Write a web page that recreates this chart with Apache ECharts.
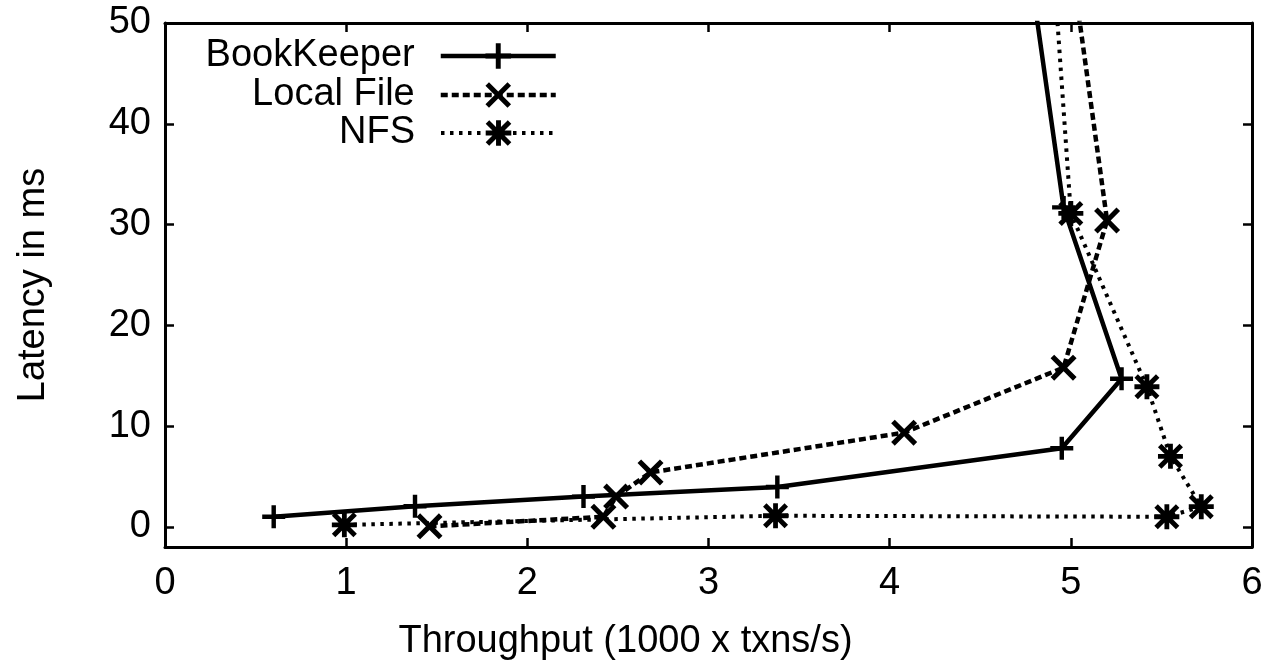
<!DOCTYPE html>
<html>
<head>
<meta charset="utf-8">
<script src="https://cdn.jsdelivr.net/npm/echarts@6/dist/echarts.min.js"></script>
<style>
html,body{margin:0;padding:0;background:#fff;}
#chart{width:1274px;height:668px;}
</style>
</head>
<body>
<div id="chart"></div>
<script>
// ---- data ----
const seriesNames = ['BookKeeper', 'Local File', 'NFS'];
const bookKeeperX = [0.60, 1.38, 2.31, 3.38, 4.95, 5.28, 4.96, 4.58];
const bookKeeperY = [1.0, 2.05, 3.0, 3.95, 7.8, 14.7, 31.7, 80];
const localFileX = [1.46, 2.42, 2.49, 2.68, 4.08, 4.96, 5.20, 4.82];
const localFileY = [0.05, 1.0, 3.0, 5.4, 9.35, 15.8, 30.4, 80];
const nfsX = [0.99, 3.37, 5.53, 5.72, 5.55, 5.42, 5.00, 4.81];
const nfsY = [0.2, 1.1, 1.0, 2.0, 7.0, 13.9, 31.1, 80];
const xTicks = [0, 1, 2, 3, 4, 5, 6];
const yTicks = [0, 10, 20, 30, 40, 50];
const xName = 'Throughput (1000 x txns/s)';
const yName = 'Latency in ms';

// ---- styles ----
const FONT = '"Liberation Sans", Arial, Helvetica, sans-serif';
const FS = 38;
const plusPath = 'path://M10.5,0H15.5V10.5H26V15.5H15.5V26H10.5V15.5H0V10.5H10.5Z';
const xPath = 'path://M3.6,0L13,9.4L22.4,0L26,3.6L16.6,13L26,22.4L22.4,26L13,16.6L3.6,26L0,22.4L9.4,13L0,3.6Z';
const starPath = 'path://M10.5,0H15.5V10.5H26V15.5H15.5V26H10.5V15.5H0V10.5H10.5Z' +
  'M3.6,0L13,9.4L22.4,0L26,3.6L16.6,13L26,22.4L22.4,26L13,16.6L3.6,26L0,22.4L9.4,13L0,3.6Z';

function pairs(xs, ys) { return xs.map((x, i) => [x, ys[i]]); }

const chart = echarts.init(document.getElementById('chart'), null, {renderer: 'canvas'});

const axisLine = {show: true, onZero: false, lineStyle: {color: '#000', width: 3}};
const tick = {show: true, inside: true, length: 9, lineStyle: {color: '#000', width: 2.5}};

function legendFor(name, top) {
  return {
    data: [name],
    right: 716,
    top: top,
    padding: 0,
    align: 'right',
    orient: 'vertical',
    itemWidth: 115,
    itemHeight: 32,
    selectedMode: false,
    lineStyle: {width: 'inherit', type: 'inherit'},
    textStyle: {fontSize: FS, color: '#000', fontFamily: FONT, padding: [0, 21, 0, 0]}
  };
}

const option = {
  animation: false,
  backgroundColor: '#fff',
  grid: {left: 165, right: 22, top: 23, bottom: 121, containLabel: false, outerBoundsMode: 'none'},
  legend: [
    legendFor(seriesNames[0], 37),
    legendFor(seriesNames[1], 76),
    legendFor(seriesNames[2], 114)
  ],
  xAxis: [
    {
      type: 'value', min: xTicks[0], max: xTicks[xTicks.length - 1], interval: 1,
      position: 'bottom',
      axisLine: axisLine, axisTick: tick,
      splitLine: {show: false},
      axisLabel: {fontSize: FS, color: '#000', fontFamily: FONT, margin: 18},
      name: xName, nameLocation: 'middle', nameGap: 76,
      nameTextStyle: {fontSize: FS, color: '#000', fontFamily: FONT, padding: [0, 166, 0, 0]}
    },
    {
      type: 'value', min: xTicks[0], max: xTicks[xTicks.length - 1], interval: 1,
      position: 'top',
      axisLine: axisLine, axisTick: tick,
      splitLine: {show: false}, axisLabel: {show: false}
    }
  ],
  yAxis: [
    {
      type: 'value', min: -2, max: 50,
      position: 'left',
      axisLine: axisLine,
      axisTick: Object.assign({}, tick, {customValues: yTicks}),
      splitLine: {show: false},
      axisLabel: {fontSize: FS, color: '#000', fontFamily: FONT, margin: 14, customValues: yTicks},
      name: yName, nameLocation: 'middle', nameGap: 112, nameRotate: 90,
      nameTextStyle: {fontSize: FS, color: '#000', fontFamily: FONT}
    },
    {
      type: 'value', min: -2, max: 50,
      position: 'right',
      axisLine: axisLine,
      axisTick: Object.assign({}, tick, {customValues: yTicks}),
      splitLine: {show: false},
      axisLabel: {show: false, customValues: yTicks}
    }
  ],
  series: [
    {
      name: seriesNames[0], type: 'line', xAxisIndex: 0, yAxisIndex: 0,
      data: pairs(bookKeeperX, bookKeeperY),
      symbol: plusPath, symbolSize: 23, showAllSymbol: true,
      lineStyle: {color: '#000', width: 4.5, type: 'solid'},
      itemStyle: {color: '#000'},
      emphasis: {disabled: true}, z: 3
    },
    {
      name: seriesNames[1], type: 'line', xAxisIndex: 0, yAxisIndex: 0,
      data: pairs(localFileX, localFileY),
      symbol: xPath, symbolSize: 26, showAllSymbol: true,
      lineStyle: {color: '#000', width: 4.5, type: [7, 4]},
      itemStyle: {color: '#000'},
      emphasis: {disabled: true}, z: 2
    },
    {
      name: seriesNames[2], type: 'line', xAxisIndex: 0, yAxisIndex: 0,
      data: pairs(nfsX, nfsY),
      symbol: starPath, symbolSize: 25, showAllSymbol: true,
      lineStyle: {color: '#000', width: 4, type: [3.5, 5.5]},
      itemStyle: {color: '#000'},
      emphasis: {disabled: true}, z: 2
    }
  ]
};
chart.setOption(option);
</script>
</body>
</html>
